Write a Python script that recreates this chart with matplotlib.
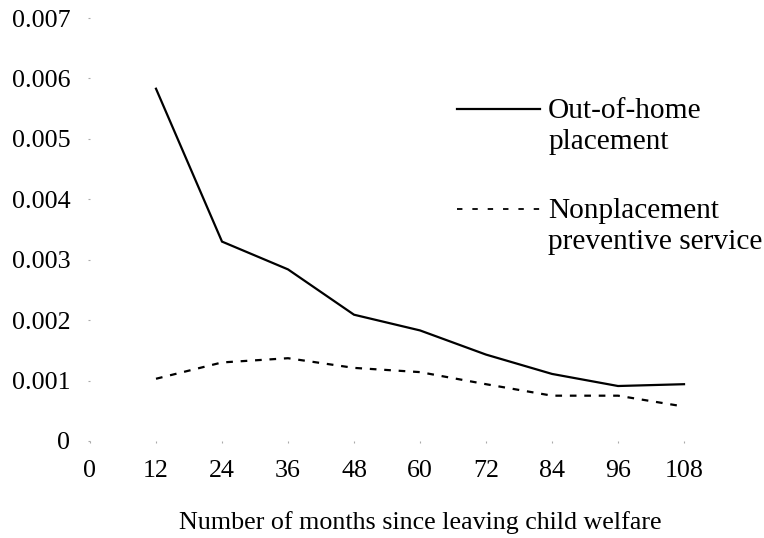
import matplotlib
matplotlib.use("Agg")
import matplotlib.pyplot as plt
from matplotlib.lines import Line2D

months = [12, 24, 36, 48, 60, 72, 84, 96, 108]
out_of_home = [0.00583, 0.00330, 0.00284, 0.00209, 0.00183, 0.00143, 0.00111, 0.00091, 0.00094]
nonplacement = [0.00103, 0.00130, 0.00137, 0.00121, 0.00114, 0.00094, 0.00075, 0.00075, 0.00057]
x_ticks = [0, 12, 24, 36, 48, 60, 72, 84, 96, 108]
y_ticks = [0, 0.001, 0.002, 0.003, 0.004, 0.005, 0.006, 0.007]
y_labels = ["0", "0.001", "0.002", "0.003", "0.004", "0.005", "0.006", "0.007"]
series_labels = [["Out-of-home", "placement"], ["Nonplacement", "preventive service"]]

plt.rcParams['font.family'] = ['Liberation Serif', 'DejaVu Serif']
plt.rcParams['font.size'] = 18.7

fig = plt.figure(figsize=(7.64, 5.38), dpi=100)
ax = fig.add_axes([0.1178, 0.1803, 0.8639, 0.7862])

solid_style = dict(color='black', lw=1.6, solid_joinstyle='miter')
dash_style = dict(color='black', lw=1.6, linestyle=(0, (3, 3.5)))
ax.plot(months, out_of_home, **solid_style)
ax.plot(months, nonplacement, **dash_style)

ax.set_xlim(0, 120)
ax.set_ylim(0, 0.007)
ax.set_xticks(x_ticks)
ax.set_xticklabels([str(v) for v in x_ticks])
ax.set_yticks(y_ticks)
ax.set_yticklabels(y_labels)
for s in ax.spines.values():
    s.set_visible(False)
ax.tick_params(axis='both', length=1.2, width=0.8, color='#aaaaaa')
ax.tick_params(axis='y', pad=13)
ax.tick_params(axis='x', pad=12.5)
ax.set_xlabel('Number of months since leaving child welfare', labelpad=21)

blank = Line2D([], [], color='none')
handles = [Line2D([], [], **solid_style), blank, blank,
           Line2D([], [], color='black', lw=1.3, linestyle=(0, (3, 5.5))), blank]
labels = [series_labels[0][0], series_labels[0][1], " ",
          series_labels[1][0], series_labels[1][1]]
leg = ax.legend(handles, labels, loc='upper left', bbox_to_anchor=(0.556, 0.811),
                frameon=False, handlelength=2.83, handletextpad=0.27, handleheight=0.3,
                labelspacing=0.17, borderpad=0, borderaxespad=0, fontsize=21.2)
leg.get_texts()[2].set_fontsize(26)

fig.savefig('out.png', dpi=100)
